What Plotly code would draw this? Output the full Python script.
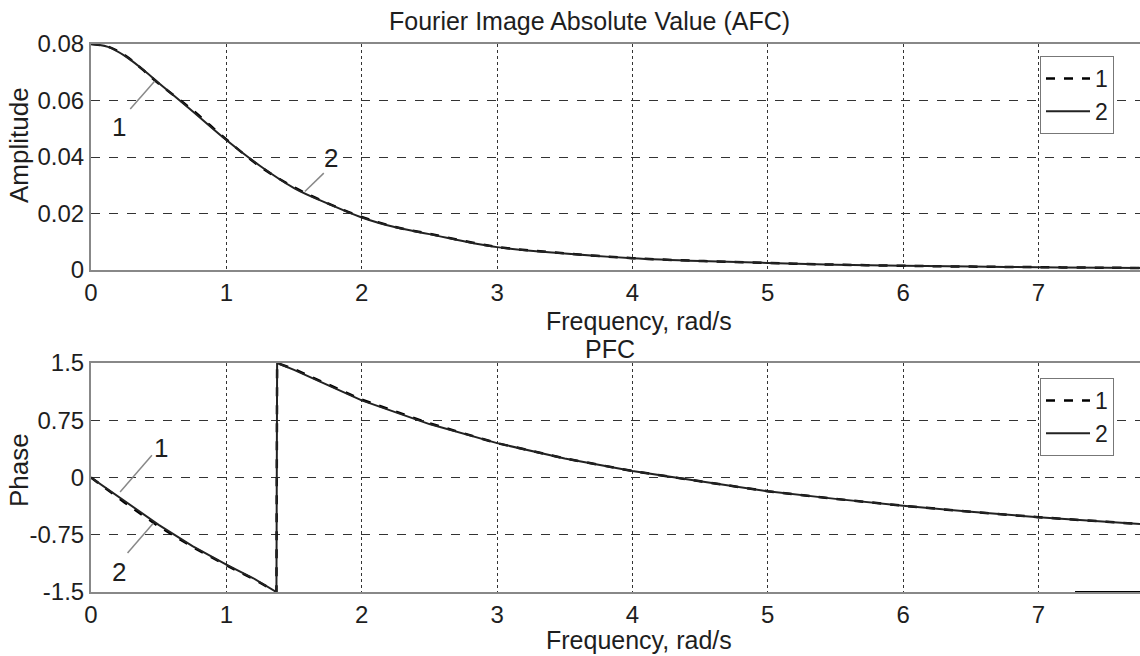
import plotly.graph_objects as go

# ---------------- data ----------------
freq_amp = [0, 0.125, 0.25, 0.375, 0.5, 0.75, 1.0, 1.25, 1.5, 1.75, 2.0, 2.25, 2.5, 3.0, 3.5, 4.0, 4.5, 5.0, 5.5, 6.0, 6.5, 7.0, 7.5, 7.75]
amp_1 = [0.080, 0.0791, 0.0760, 0.0712, 0.0660, 0.0566, 0.0462, 0.0366, 0.0293, 0.0236, 0.0188, 0.0152, 0.0128, 0.0082, 0.0059, 0.0042, 0.0032, 0.0025, 0.0019, 0.0015, 0.0012, 0.0010, 0.0008, 0.0007]
amp_2 = [0.080, 0.0790, 0.0758, 0.0713, 0.0662, 0.0562, 0.0460, 0.0368, 0.0290, 0.0235, 0.0186, 0.0151, 0.0127, 0.0081, 0.0058, 0.0042, 0.0032, 0.0025, 0.0019, 0.0015, 0.0012, 0.0010, 0.0008, 0.0007]

freq_ph = [0, 0.25, 0.5, 0.75, 1.0, 1.2, 1.37, 1.375, 1.5, 1.75, 2.0, 2.5, 3.0, 3.5, 4.0, 4.5, 5.0, 5.5, 6.0, 6.5, 7.0, 7.5, 7.75]
phase_1 = [0, -0.33, -0.64, -0.91, -1.15, -1.33, -1.5, 1.5, 1.42, 1.22, 1.02, 0.71, 0.45, 0.25, 0.085, -0.05, -0.18, -0.28, -0.37, -0.45, -0.52, -0.58, -0.61]
phase_2 = [0, -0.31, -0.62, -0.90, -1.14, -1.32, -1.5, 1.5, 1.41, 1.21, 1.01, 0.70, 0.45, 0.25, 0.085, -0.05, -0.18, -0.28, -0.37, -0.45, -0.52, -0.58, -0.61]
tail_x = [7.27, 7.75]
tail_y = [-1.5, -1.5]

x_ticks = [0, 1, 2, 3, 4, 5, 6, 7]
amp_ticks = [0, 0.02, 0.04, 0.06, 0.08]
amp_labels = ["0", "0.02", "0.04", "0.06", "0.08"]
ph_ticks = [-1.5, -0.75, 0, 0.75, 1.5]
ph_labels = ["-1.5", "-0.75", "0", "0.75", "1.5"]

FONT = "Liberation Sans, Arial, sans-serif"
TXT = "#1e1e1e"
W, H = 1140, 656

fig = go.Figure()

fig.add_trace(go.Scatter(x=freq_amp, y=amp_1, name="1", mode="lines", line=dict(color="black", width=2.5, dash="dash"),
                         xaxis="x", yaxis="y", legend="legend", line_shape="spline"))
fig.add_trace(go.Scatter(x=freq_amp, y=amp_2, name="2", mode="lines", line=dict(color="#222", width=2),
                         xaxis="x", yaxis="y", legend="legend", line_shape="spline"))
fig.add_trace(go.Scatter(x=freq_ph, y=phase_1, name="1", mode="lines", line=dict(color="black", width=2.5, dash="dash"),
                         xaxis="x2", yaxis="y2", legend="legend2"))
fig.add_trace(go.Scatter(x=freq_ph, y=phase_2, name="2", mode="lines", line=dict(color="#222", width=2),
                         xaxis="x2", yaxis="y2", legend="legend2"))
fig.add_trace(go.Scatter(x=tail_x, y=tail_y, mode="lines", line=dict(color="black", width=2),
                         xaxis="x2", yaxis="y2", showlegend=False))

xdom = [91 / W, 1.0]
top_dom = [1 - 270 / H, 1 - 44 / H]
bot_dom = [1 - 592 / H, 1 - 363 / H]

TICKF = dict(family=FONT, size=24, color=TXT)
grid_common = dict(showgrid=True, gridcolor="#333", gridwidth=1, zeroline=False, automargin=False,
                   tickfont=TICKF, ticks="", linecolor="#888", linewidth=2, showline=True)

xcommon = dict(grid_common, range=[0, 7.75], tickvals=x_ticks, griddash="dot", mirror=True, ticklabelstandoff=0)
ycommon = dict(grid_common, griddash="dash", mirror=False, ticklabelstandoff=0)

legend_common = dict(xanchor="left", yanchor="top", bgcolor="white", bordercolor="#777", borderwidth=1,
                     font=dict(family=FONT, size=23, color=TXT), tracegroupgap=0, itemwidth=44)

fig.update_layout(
    width=W, height=H,
    margin=dict(l=0, r=0, t=0, b=0, autoexpand=False),
    paper_bgcolor="white", plot_bgcolor="white",
    font=dict(family=FONT, size=20, color=TXT),
    xaxis=dict(xcommon, domain=xdom, anchor="y"),
    yaxis=dict(ycommon, domain=top_dom, anchor="x", range=[0, 0.08], tickvals=amp_ticks, ticktext=amp_labels),
    xaxis2=dict(xcommon, domain=xdom, anchor="y2"),
    yaxis2=dict(ycommon, domain=bot_dom, anchor="x2", range=[-1.5, 1.5], tickvals=ph_ticks, ticktext=ph_labels),
    legend=dict(legend_common, x=1040 / W, y=1 - 56 / H),
    legend2=dict(legend_common, x=1040 / W, y=1 - 378 / H),
    showlegend=True,
)

# titles (as paper annotations for exact placement)
def ptext(text, px, py, size, angle=0):
    fig.add_annotation(text=text, xref="paper", yref="paper", x=px / W, y=1 - py / H,
                       xanchor="center", yanchor="middle", showarrow=False, textangle=angle,
                       font=dict(family=FONT, size=size, color=TXT))

ptext("Fourier Image Absolute Value (AFC)", 589, 21, 25)
ptext("PFC", 610, 349, 25)
ptext("Frequency, rad/s", 639, 321, 25)
ptext("Frequency, rad/s", 639, 640, 25)
ptext("Amplitude", 19, 145, 26, -90)
ptext("Phase", 19, 470, 26, -90)

# curve labels with leader lines
lab_font = dict(family=FONT, size=26, color=TXT)
fig.add_annotation(text="1", x=0.21, y=0.0505, xref="x", yref="y", showarrow=False, font=lab_font)
fig.add_annotation(text="2", x=1.77, y=0.0395, xref="x", yref="y", showarrow=False, font=lab_font)
fig.add_annotation(text="1", x=0.52, y=0.39, xref="x2", yref="y2", showarrow=False, font=lab_font)
fig.add_annotation(text="2", x=0.21, y=-1.24, xref="x2", yref="y2", showarrow=False, font=lab_font)

leader = dict(color="#888", width=1.5)
fig.add_shape(type="line", xref="x", yref="y", x0=0.29, y0=0.057, x1=0.47, y1=0.0668, line=leader)
fig.add_shape(type="line", xref="x", yref="y", x0=1.58, y0=0.0278, x1=1.72, y1=0.0343, line=leader)
fig.add_shape(type="line", xref="x2", yref="y2", x0=0.45, y0=0.29, x1=0.215, y1=-0.19, line=leader)
fig.add_shape(type="line", xref="x2", yref="y2", x0=0.27, y0=-0.99, x1=0.46, y1=-0.60, line=leader)

fig.write_html("out.html")
